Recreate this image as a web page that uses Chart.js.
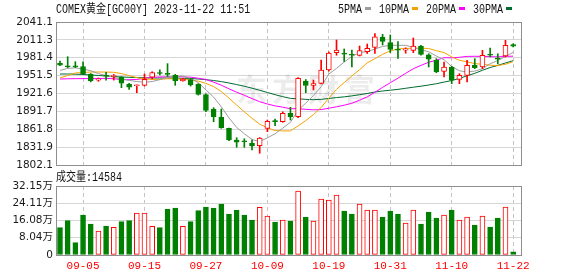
<!DOCTYPE html>
<html><head><meta charset="utf-8">
<script src="https://cdn.jsdelivr.net/npm/chart.js@4.4.0/dist/chart.umd.min.js"></script>
<style>
html,body{margin:0;padding:0;background:#fff;}
#wrap{position:relative;width:578px;height:276px;overflow:hidden;background:#fff;}
canvas{position:absolute;left:0;}
#c1{top:0;}
#c2{top:166px;}
</style></head><body>
<div id="wrap"><canvas id="c1" width="578" height="180"></canvas><canvas id="c2" width="578" height="110"></canvas></div>
<script>
const titleText = 'COMEX黄金[GC00Y] 2023-11-22 11:51';
const volumeLabel = '成交量';
const watermarkText = '东方财富';

const dates = ['08-31','09-01','09-04','09-05','09-06','09-07','09-08','09-11','09-12','09-13','09-14','09-15','09-18','09-19','09-20','09-21','09-22','09-25','09-26','09-27','09-28','09-29','10-02','10-03','10-04','10-05','10-06','10-09','10-10','10-11','10-12','10-13','10-16','10-17','10-18','10-19','10-20','10-23','10-24','10-25','10-26','10-27','10-30','10-31','11-01','11-02','11-03','11-06','11-07','11-08','11-09','11-10','11-13','11-14','11-15','11-16','11-17','11-20','11-21','11-22'];

const opens  = [1972.1,1967.0,1968.0,1966.4,1954.2,1944.0,1952.0,1950.0,1948.7,1937.0,1934.5,1935.3,1948.7,1955.5,1954.5,1952.0,1942.6,1945.0,1937.0,1919.9,1895.2,1881.8,1863.4,1843.9,1842.0,1838.4,1834.4,1863.4,1876.0,1874.5,1888.5,1882.8,1942.5,1935.3,1938.6,1960.9,1989.8,1989.0,1986.5,1985.4,1991.5,1998.5,2016.0,2006.8,1996.0,1994.0,1993.8,2001.0,1986.4,1977.1,1958.7,1965.9,1945.3,1952.0,1968.7,1965.9,1987.0,1980.0,1984.3,2003.2];
const highs  = [1975.9,1983.1,1974.7,1974.7,1955.0,1947.5,1957.0,1953.5,1950.0,1938.5,1936.0,1954.2,1958.0,1961.0,1971.5,1953.5,1947.0,1947.0,1938.0,1921.0,1897.9,1895.7,1864.0,1847.7,1846.0,1843.9,1848.0,1877.3,1879.0,1891.0,1898.5,1948.0,1945.0,1944.2,1977.6,1991.0,2011.0,1996.0,1994.3,2001.0,2004.3,2021.9,2020.5,2019.4,2008.2,1998.0,2014.4,2002.0,1988.1,1979.8,1974.2,1967.0,1954.7,1977.1,1979.8,1993.8,1997.6,1988.0,2010.5,2004.8];
const lows   = [1968.0,1964.7,1964.7,1953.8,1941.0,1942.0,1944.0,1944.0,1931.3,1928.6,1922.9,1934.1,1946.0,1952.5,1950.0,1935.3,1942.0,1934.0,1919.0,1891.2,1874.5,1863.4,1842.8,1831.7,1831.7,1827.2,1821.7,1857.8,1867.8,1873.5,1877.3,1881.0,1922.9,1927.5,1937.5,1959.0,1985.5,1975.1,1965.9,1984.3,1988.4,1988.4,2002.7,1990.0,1980.4,1989.0,1989.8,1985.5,1965.9,1956.4,1949.2,1938.0,1938.0,1940.8,1963.1,1963.1,1982.6,1971.0,1982.6,1999.3];
const closes = [1968.8,1966.0,1966.2,1954.2,1943.0,1945.0,1950.5,1951.0,1938.8,1932.0,1935.5,1945.3,1956.4,1955.0,1953.5,1943.0,1945.8,1936.0,1920.0,1893.2,1882.8,1864.4,1843.9,1840.1,1841.0,1833.9,1847.2,1875.1,1874.5,1888.5,1882.8,1947.0,1935.0,1938.3,1960.9,1989.3,1994.3,1987.5,1985.5,1993.5,1997.1,2016.4,2008.5,1995.1,1994.0,1996.0,2001.0,1987.1,1978.8,1957.5,1965.9,1943.7,1952.0,1968.7,1964.7,1985.4,1985.5,1979.0,2002.2,2000.5];
const volumes = [127200,159800,57300,186400,144400,111800,135100,128900,155300,159800,195700,195700,133600,127200,214300,219000,133600,155300,206500,223700,219000,237600,191000,209700,186400,163100,222200,181700,153800,163100,158400,298200,177100,158400,260900,256300,279600,205000,191000,237600,209700,209700,177100,205000,191000,149100,209700,144400,200400,172400,186400,209700,163100,177100,139800,181700,130500,172400,223700,14584];

const ma5  = [1960.3,1963.5,1964.5,1962.5,1959.6,1954.8,1951.7,1948.7,1945.7,1943.5,1941.6,1940.5,1941.6,1944.8,1949.1,1950.6,1950.7,1946.7,1939.7,1927.6,1915.6,1899.3,1880.9,1864.9,1854.4,1844.7,1841.2,1847.5,1854.3,1863.8,1873.6,1893.6,1905.6,1918.3,1932.8,1954.1,1963.6,1974.1,1983.5,1990.0,1991.6,1996.0,2000.2,2002.1,2002.2,2002.0,1998.9,1994.6,1991.4,1984.1,1978.1,1966.6,1959.6,1957.6,1959.0,1962.9,1971.3,1976.7,1983.4,1990.5];
const ma10 = [1947.5,1951.7,1955.9,1956.7,1957.5,1957.5,1957.5,1957.0,1955.0,1951.4,1948.1,1946.0,1945.1,1945.2,1946.2,1946.0,1945.5,1944.1,1942.3,1938.4,1933.1,1925.0,1913.8,1902.3,1891.0,1880.1,1870.3,1864.2,1859.6,1859.1,1859.1,1867.4,1876.5,1886.3,1898.3,1913.9,1928.6,1939.8,1950.9,1961.4,1972.8,1979.8,1987.1,1992.8,1996.1,1996.8,1997.5,1997.4,1996.8,1993.2,1990.0,1982.8,1977.1,1974.5,1971.5,1970.5,1968.9,1968.1,1970.5,1974.8];
const ma20 = [1945.8,1946.2,1946.4,1946.5,1946.5,1946.6,1947.0,1946.2,1945.0,1944.7,1945.0,1947.0,1948.7,1949.2,1949.5,1949.7,1949.5,1948.8,1947.2,1944.9,1940.6,1935.5,1929.4,1923.7,1918.6,1913.1,1907.9,1904.1,1900.9,1898.8,1896.1,1896.2,1895.1,1894.3,1894.7,1897.0,1899.4,1902.0,1905.3,1910.3,1916.0,1923.6,1931.8,1939.6,1947.2,1955.3,1963.0,1968.6,1973.8,1977.3,1981.4,1981.3,1982.1,1983.6,1983.8,1983.6,1983.2,1982.8,1983.6,1984.0];
const ma30 = [1954.2,1954.2,1953.9,1953.4,1952.5,1951.7,1950.8,1950.0,1949.2,1948.7,1948.2,1947.8,1947.5,1947.5,1947.5,1947.2,1947.0,1946.7,1945.8,1944.8,1943.3,1941.5,1939.2,1936.5,1933.7,1930.5,1927.0,1923.3,1919.6,1916.3,1913.4,1912.8,1911.8,1911.3,1911.8,1913.3,1914.8,1916.0,1917.6,1919.6,1921.7,1924.1,1925.8,1927.1,1928.5,1930.3,1932.1,1933.8,1935.8,1937.9,1940.7,1943.3,1946.9,1951.2,1955.3,1960.4,1965.0,1968.5,1972.7,1976.4];

const priceTicks = [1802.1,1831.9,1861.8,1891.7,1921.6,1951.5,1981.4,2011.3,2041.1];
const volTicks = [0,80375,160750,241125,321500];
const volTickLabels = ['0','8.04万','16.08万','24.11万','32.15万'];
const xTickLabels = ['09-05','09-15','09-27','10-09','10-19','10-31','11-10','11-22'];
const maNames = ['5PMA','10PMA','20PMA','30PMA'];
</script>
<script>
const maData = [ma5, ma10, ma20, ma30];
const maColors = ['#9d9d9d','#f3a200','#ff00ff','#006b30'];
const RED = '#ff0000', GREEN = '#008000';
const up = closes.map((c,i)=> c > opens[i]);
const edgeColors = up.map(u => u ? RED : GREEN);
const fillColors = up.map(u => u ? '#ffffff' : GREEN);
const xTickIdx = xTickLabels.map(l => dates.indexOf(l));
const X_MIN = -0.521, X_MAX = 60.15;

function monoText(ctx, text, x, y, color) {
  ctx.save();
  ctx.font = '12px "Liberation Mono", "Noto Sans CJK SC", monospace';
  ctx.fillStyle = color;
  ctx.textBaseline = 'middle';
  ctx.textAlign = 'left';
  ctx.translate(x, y);
  ctx.scale(0.834, 1);
  ctx.fillText(text, 0, 0);
  const w = ctx.measureText(text).width * 0.834;
  ctx.restore();
  return w;
}

const framePlugin = {
  id: 'frame',
  afterDatasetsDraw(chart) {
    const a = chart.chartArea, ctx = chart.ctx;
    ctx.save();
    ctx.strokeStyle = '#8e8e8e';
    ctx.lineWidth = 1;
    const L = Math.round(a.left), R = Math.round(a.right), T = Math.round(a.top), B = Math.round(a.bottom);
    ctx.strokeRect(L + 0.5, T + 0.5, R - L - 1, B - T);
    ctx.restore();
  }
};

const priceTextPlugin = {
  id: 'priceText',
  beforeDatasetsDraw(chart) {
    const ctx = chart.ctx;
    ctx.save();
    ctx.font = 'bold 31px "Noto Sans CJK SC"';
    ctx.fillStyle = 'rgba(0,0,0,0.075)';
    ctx.textBaseline = 'middle';
    try { ctx.letterSpacing = '5px'; } catch (e) {}
    ctx.fillText(watermarkText, 236, 89);
    ctx.restore();
  },
  afterDraw(chart) {
    const ctx = chart.ctx;
    monoText(ctx, titleText, 56, 9.5, '#111');
    let x = 338;
    maNames.forEach((n, k) => {
      const w = monoText(ctx, n, x, 9.5, '#111');
      ctx.fillStyle = maColors[k];
      ctx.fillRect(Math.round(x + w + 3), 7, 6, 3);
      x += w + 17;
    });
  }
};

const volTextPlugin = {
  id: 'volText',
  afterDraw(chart) {
    monoText(chart.ctx, volumeLabel + ':' + volumes[volumes.length - 1], 56, 12, '#111');
  }
};

function xScale(showLabels, h) {
  return {
    type: 'linear', min: X_MIN, max: X_MAX, offset: false,
    afterBuildTicks: s => { s.ticks = xTickIdx.map(v => ({ value: v })); },
    afterFit: s => { s.height = h; },
    ticks: {
      display: showLabels, autoSkip: false, maxRotation: 0, padding: 4,
      color: RED,
      font: { family: '"Liberation Mono", monospace', size: 11 },
      callback: v => dates[v]
    },
    grid: { color: '#c4c4c4', drawTicks: false, offset: false, lineWidth: 1 },
    border: { display: false, dash: [4, 3] }
  };
}

const yFont = { family: '"DejaVu Sans", "Noto Sans CJK SC", sans-serif', size: 10.5 };

new Chart(document.getElementById('c1'), {
  type: 'bar',
  data: {
    datasets: [
      ...maData.map((arr, k) => ({
        type: 'line', label: maNames[k],
        data: arr.map((v, i) => ({ x: i, y: v })),
        borderColor: maColors[k], borderWidth: 1, pointRadius: 0, tension: 0, fill: false,
        order: 3 + k
      })),
      {
        type: 'bar', label: 'wick',
        data: lows.map((l, i) => ({ x: i, y: [l, highs[i]] })),
        backgroundColor: edgeColors, borderWidth: 0,
        barThickness: 1, grouped: false, order: 2
      },
      {
        type: 'bar', label: 'body',
        data: opens.map((o, i) => ({ x: i, y: [o, closes[i]] })),
        backgroundColor: fillColors, borderColor: edgeColors, borderWidth: 1, borderSkipped: false,
        barThickness: 5, grouped: false, minBarLength: 1, order: 1
      }
    ]
  },
  options: {
    responsive: false, animation: false, devicePixelRatio: 1,
    layout: { padding: { top: 22, right: 56, left: 0, bottom: 0 } },
    plugins: { legend: { display: false }, tooltip: { enabled: false }, title: { display: false } },
    scales: {
      x: xScale(false, 15),
      y: {
        min: 1802.1, max: 2041.1,
        afterBuildTicks: s => { s.ticks = priceTicks.map(v => ({ value: v })); },
        afterFit: s => { s.width = 56; },
        ticks: { color: '#1a1a1a', font: yFont, padding: 3, callback: v => v.toFixed(1) },
        grid: { color: '#d6d6d6', drawTicks: false, lineWidth: 1 },
        border: { display: false }
      }
    }
  },
  plugins: [priceTextPlugin, framePlugin]
});

new Chart(document.getElementById('c2'), {
  type: 'bar',
  data: {
    datasets: [{
      type: 'bar', label: volumeLabel,
      data: volumes.map((v, i) => ({ x: i, y: v })),
      backgroundColor: fillColors, borderColor: edgeColors, borderWidth: 1, borderSkipped: false,
      barThickness: 5, grouped: false
    }]
  },
  options: {
    responsive: false, animation: false, devicePixelRatio: 1,
    layout: { padding: { top: 20, right: 56, left: 0, bottom: 0 } },
    plugins: { legend: { display: false }, tooltip: { enabled: false } },
    scales: {
      x: xScale(true, 21),
      y: {
        min: 0, max: 321500,
        afterBuildTicks: s => { s.ticks = volTicks.map(v => ({ value: v })); },
        afterFit: s => { s.width = 56; },
        ticks: { color: '#1a1a1a', font: yFont, padding: 3, callback: (v, idx) => volTickLabels[idx] },
        grid: { color: '#d6d6d6', drawTicks: false, lineWidth: 1 },
        border: { display: false }
      }
    }
  },
  plugins: [volTextPlugin, framePlugin]
});
</script>
</body></html>
